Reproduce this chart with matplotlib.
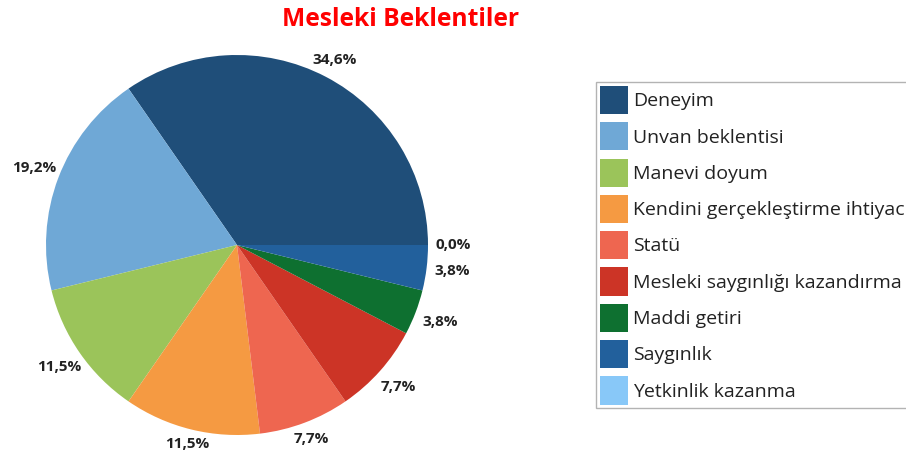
import numpy as np
import matplotlib.pyplot as plt

plt.rcParams['font.family'] = ['Open Sans', 'DejaVu Sans']

names = ["Deneyim", "Unvan beklentisi", "Manevi doyum", "Kendini gerçekleştirme ihtiyacı",
         "Statü", "Mesleki saygınlığı kazandırma", "Maddi getiri", "Saygınlık", "Yetkinlik kazanma"]
counts = [9, 5, 3, 3, 2, 2, 1, 1, 0]
colors = ["#1f4e79", "#6fa8d6", "#9bc45a", "#f59a42", "#ee6650",
          "#cc3426", "#0e7030", "#22609c", "#88c8f8"]

total = sum(counts)
pct_labels = [("%.1f%%" % (100 * c / total)).replace(".", ",") for c in counts]

fig = plt.figure(figsize=(9.06, 4.57), dpi=100)
ax = fig.add_axes([46 / 906, (457 - 245 - 190) / 457, 382 / 906, 380 / 457])

wedges, _ = ax.pie(counts, colors=colors, startangle=0, counterclock=True,
                   wedgeprops=dict(linewidth=0))
ax.set_xlim(-1, 1)
ax.set_ylim(-1, 1)
ax.set_aspect('auto')

# labels just outside the rim, offset by half the text box along the radius
for w, lab in zip(wedges, pct_labels):
    ang = np.deg2rad((w.theta1 + w.theta2) / 2)
    c, s = np.cos(ang), np.sin(ang)
    off = 3 + 22 * abs(c) + 7 * abs(s)
    ax.annotate(lab, xy=(c, s), xytext=(off * c, off * s), textcoords='offset pixels',
                ha='center', va='center', fontsize=11, fontweight='bold',
                color='#222222', annotation_clip=False)

fig.text(0.442, 0.958, "Mesleki Beklentiler", color='red', fontsize=17.7,
         fontweight='bold', ha='center', va='center')

leg = fig.legend(wedges, names, loc='upper left', bbox_to_anchor=(596 / 906, 1 - 82 / 457),
                 fontsize=14, frameon=True, fancybox=False, edgecolor='#a0a0a0',
                 handlelength=1.45, handleheight=1.85, handletextpad=0.25,
                 labelspacing=0.42, borderpad=0.2, borderaxespad=0)
leg.get_frame().set_linewidth(1)
for t in leg.get_texts():
    t.set_color('#222222')

fig.savefig("out.png", dpi=100)
